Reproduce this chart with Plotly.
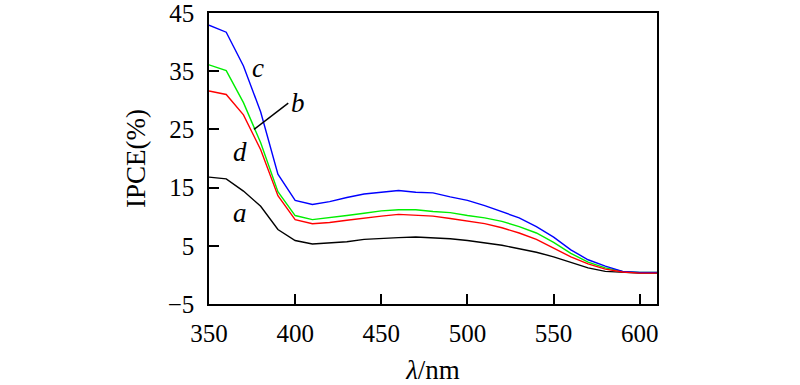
import plotly.graph_objects as go

wavelength = [350, 360, 370, 380, 390, 400, 410, 420, 430, 440, 450, 460, 470, 480,
              490, 500, 510, 520, 530, 540, 550, 560, 570, 580, 590, 600, 610]

ipce_a = [16.8, 16.5, 14.4, 11.8, 7.8, 5.9, 5.3, 5.5, 5.7, 6.1, 6.3, 6.4, 6.5, 6.4,
          6.2, 5.9, 5.5, 5.1, 4.5, 3.9, 3.1, 2.2, 1.2, 0.6, 0.4, 0.3, 0.3]
ipce_b = [36.1, 35.1, 29.6, 22.7, 14.3, 10.2, 9.5, 9.8, 10.2, 10.6, 11.0, 11.2, 11.2, 10.9,
          10.7, 10.2, 9.8, 9.2, 8.3, 7.2, 5.6, 3.7, 2.2, 1.2, 0.6, 0.4, 0.4]
ipce_c = [42.9, 41.7, 35.9, 28.0, 17.3, 12.8, 12.1, 12.6, 13.3, 13.9, 14.2, 14.5, 14.2, 14.1,
          13.4, 12.8, 11.9, 10.8, 9.8, 8.3, 6.5, 4.3, 2.6, 1.5, 0.6, 0.4, 0.4]
ipce_d = [31.6, 31.0, 27.5, 21.5, 13.6, 9.5, 8.8, 9.0, 9.4, 9.8, 10.1, 10.4, 10.2, 10.1,
          9.7, 9.2, 8.8, 8.1, 7.2, 6.1, 4.6, 3.1, 1.9, 1.0, 0.5, 0.3, 0.3]

series_names = ["a", "b", "c", "d"]
series_values = [ipce_a, ipce_b, ipce_c, ipce_d]
series_colors = ["#000000", "#00ee00", "#0000ff", "#ff0000"]

x_ticks = [350, 400, 450, 500, 550, 600]
y_ticks = [-5, 5, 15, 25, 35, 45]
y_tick_text = ["\u22125", "5", "15", "25", "35", "45"]

label_x = [368, 401.5, 378.5, 368]
label_y = [10.7, 29.6, 35.5, 21.2]
leader_b = [(396, 29.5), (376.1, 25.0)]

FONT = "Liberation Serif, Times New Roman, serif"

fig = go.Figure()
for name, vals, col in zip(series_names, series_values, series_colors):
    fig.add_trace(go.Scatter(x=wavelength, y=vals, mode="lines", name=name,
                             line=dict(color=col, width=1.4), showlegend=False))

for name, lx, ly in zip(series_names, label_x, label_y):
    fig.add_annotation(x=lx, y=ly, text=f"<i>{name}</i>", showarrow=False,
                       font=dict(family=FONT, size=27, color="black"))

fig.add_shape(type="line", x0=leader_b[0][0], y0=leader_b[0][1],
              x1=leader_b[1][0], y1=leader_b[1][1],
              line=dict(color="black", width=1.5))

fig.update_layout(
    width=800, height=385,
    margin=dict(l=209, r=143, t=13, b=81),
    paper_bgcolor="white", plot_bgcolor="white",
    font=dict(family=FONT, size=25, color="black"),
)
fig.update_xaxes(range=[350, 610], tickvals=x_ticks, ticks="inside", ticklen=10,
                 tickwidth=1.5, tickcolor="black", showline=True, linecolor="black",
                 linewidth=1.5, mirror=True, showgrid=False, zeroline=False,
                 automargin=False, ticklabelstandoff=6, ticklabeloverflow="allow",
                 title=dict(text="<i>λ</i>/nm", font=dict(family=FONT, size=27), standoff=14),
                 tickfont=dict(family=FONT, size=25))
fig.update_yaxes(range=[-5, 45], tickvals=y_ticks, ticktext=y_tick_text,
                 ticks="inside", ticklen=10,
                 tickwidth=1.5, tickcolor="black", showline=True, linecolor="black",
                 linewidth=1.5, mirror=True, showgrid=False, zeroline=False,
                 automargin=False, ticklabelstandoff=8, ticklabeloverflow="allow",
                 title=dict(text="IPCE(%)", font=dict(family=FONT, size=27), standoff=14),
                 tickfont=dict(family=FONT, size=25))

fig.write_html("out.html", config={"displayModeBar": False},
               post_script="document.body.style.margin='0';")
